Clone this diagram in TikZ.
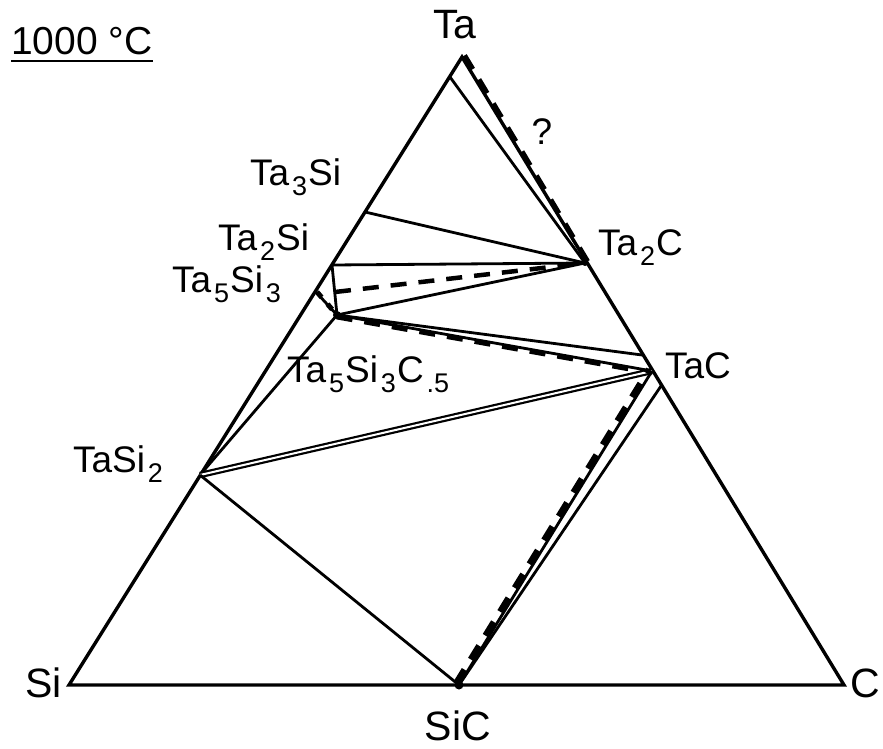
\documentclass[tikz,border=0pt]{standalone}
\usepackage{fontspec}
\setmainfont{Liberation Sans}
\newcommand{\sbs}[1]{\kern3pt\raisebox{-10pt}{\fontsize{27}{27}\selectfont #1}\kern1pt}
\begin{document}
\begin{tikzpicture}[x=1pt,y=-1pt,
  edge/.style={line width=3.4pt,line join=miter},
  tie/.style={line width=2.8pt},
  dtie/.style={line width=5pt,dash pattern=on 16pt off 12pt},
  dbl/.style={line width=2.2pt},
  vlab/.style={font=\fontsize{41}{41}\selectfont,inner sep=0pt,outer sep=0pt},
  clab/.style={font=\fontsize{37}{37}\selectfont,inner sep=0pt,outer sep=0pt,anchor=base west},
  ]
\useasboundingbox (0,0) rectangle (883,749);
% composition points
\coordinate (Si) at (69,685);
\coordinate (C) at (844,685);
\coordinate (Ta) at (462,57);
\coordinate (SiC) at (459,685);
\coordinate (TaSi2) at (200,475);
\coordinate (Ta5Si3) at (315,291);
\coordinate (Ta2Si) at (332,265);
\coordinate (Ta3Si) at (365,212);
\coordinate (Tass) at (450,77);
\coordinate (Ta2C) at (585,263);
\coordinate (TaC) at (652,371);
\coordinate (TaCa) at (642,355);
\coordinate (TaCb) at (661,386);
\coordinate (T53C) at (337,315);
\coordinate (Dst) at (335,292);
% triangle
\draw[edge] (Si) -- (Ta) -- (C) -- cycle;
% Ta - Ta2C
\draw[tie] (Tass) -- (Ta2C);
\draw[dtie,line width=4.5pt] ([xshift=2.8pt,yshift=1.7pt]Ta) -- ([xshift=2.8pt,yshift=1.7pt]Ta2C);
% Ta3Si, Ta2Si - Ta2C
\draw[tie] (Ta3Si) -- (Ta2C);
\draw[tie] (Ta2Si) -- (Ta2C);
\draw[dtie,line width=4.5pt] (Dst) -- (Ta2C);
% Ta5Si3C.5 ties
\draw[tie] (Ta2Si) -- (T53C);
\draw[tie] (Ta5Si3) -- (T53C);
\draw[line width=5pt,dash pattern=on 7pt off 9pt] ([xshift=2pt,yshift=-1pt]Ta5Si3) -- (T53C);
\draw[tie] (T53C) -- (Ta2C);
\draw[tie] (T53C) -- (TaCa);
\draw[tie] (T53C) -- (TaC);
\draw[dtie,line width=4pt] ([xshift=-0.4pt,yshift=-2.4pt]T53C) -- ([xshift=-0.4pt,yshift=-2.4pt]TaC);
\fill (T53C) circle (4pt);
\fill (Ta2C) circle (3pt);
% TaSi2 ties
\draw[tie] (TaSi2) -- (T53C);
\draw[dbl,double distance=2pt] (TaSi2) -- (TaC);
\draw[tie] (TaSi2) -- (SiC);
% SiC - TaC
\draw[tie] (SiC) -- (TaC);
\draw[tie] (SiC) -- (TaCb);
\draw[dtie,line width=6pt] ([xshift=-3pt,yshift=1.8pt]SiC) -- ([xshift=-3pt,yshift=1.8pt]TaC);
\fill (SiC) circle (4.5pt);
% labels
\node[font=\fontsize{39}{39}\selectfont,inner sep=0pt,anchor=base west] (title) at (11,55) {1000 °C};
\draw[line width=2.2pt] ([yshift=-6pt]title.base west) -- ([yshift=-6pt]title.base east);
\node[vlab,anchor=base] (lTa) at (455,39) {Ta};
\node[vlab,anchor=base west] (lSi) at (25,697) {Si};
\node[vlab,anchor=base west] (lC) at (850,697) {C};
\node[vlab,anchor=base] (lSiC) at (458,740) {SiC};
\node[clab,anchor=base] (q) at (542,145) {?};
\node[clab] (lTa3Si) at (250,185) {Ta\sbs{3}Si};
\node[clab] (lTa2Si) at (218,250) {Ta\sbs{2}Si};
\node[clab] (lTa5Si3) at (172,292) {Ta\sbs{5}Si\sbs{3}};
\node[clab] (lT53C) at (287,382) {Ta\sbs{5}Si\sbs{3}C\sbs{.5}};
\node[clab] (lTaSi2) at (73,472) {TaSi\sbs{2}};
\node[clab] (lTa2C) at (598,255) {Ta\sbs{2}C};
\node[clab] (lTaC) at (665,378) {TaC};
\end{tikzpicture}
\end{document}
